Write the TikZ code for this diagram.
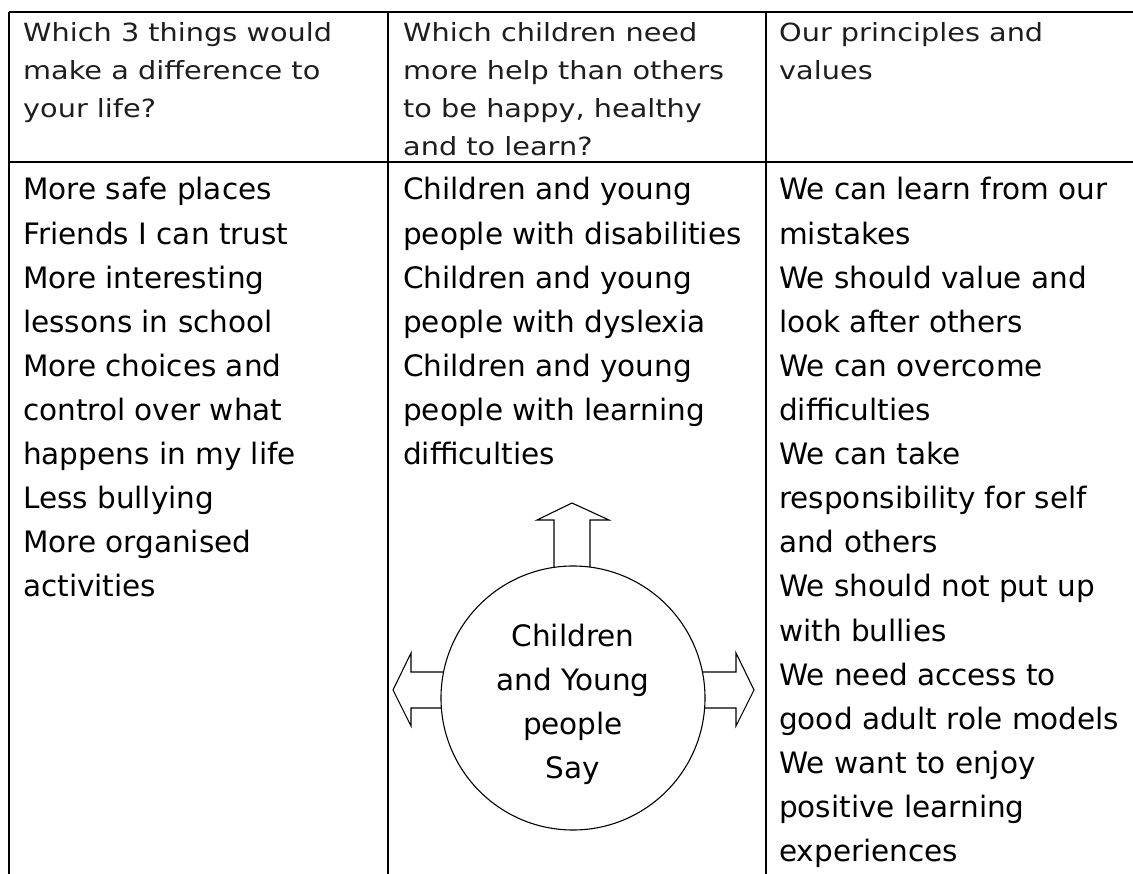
\documentclass[tikz,border=0pt]{standalone}
\usepackage{fontspec}
\newfontfamily\hfont[FakeStretch=1.15]{DejaVu Sans}
\newfontfamily\bfont{DejaVu Sans}
\definecolor{hgray}{HTML}{1E1E1E}
\begin{document}
\begin{tikzpicture}[x=1pt,y=-1pt,
  gridline/.style={line width=1.6pt, draw=black},
  headtext/.style={font=\hfont\fontsize{25}{30}\selectfont, text=hgray, anchor=base west, inner sep=0pt},
  bodytext/.style={font=\bfont\fontsize{29.5}{36}\selectfont, text=black, anchor=base west, inner sep=0pt},
  hubtext/.style={font=\bfont\fontsize{29.5}{36}\selectfont, text=black, anchor=base, inner sep=0pt},
  blockarrow/.style={draw=black, fill=white, line width=1.1pt, line join=miter},
  hub/.style={circle, draw=black, fill=white, line width=1.1pt, minimum size=264pt, inner sep=0pt}]
\useasboundingbox (0,0) rectangle (1133,874);
\fill[white] (0,0) rectangle (1133,874);
% table grid
\coordinate (tl) at (9,12);
\coordinate (tr) at (1133,12);
\coordinate (ml) at (9,162);
\coordinate (mr) at (1133,162);
\coordinate (bl) at (9,874);
\coordinate (c1t) at (388,12);
\coordinate (c1b) at (388,874);
\coordinate (c2t) at (766,12);
\coordinate (c2b) at (766,874);
\draw[gridline] (tl) -- (tr);
\draw[gridline] (ml) -- (mr);
\draw[gridline] (tl) -- (bl);
\draw[gridline] (c1t) -- (c1b);
\draw[gridline] (c2t) -- (c2b);
% headers
\foreach \t [count=\i] in {Which 3 things would, make a difference to, your life?}
  \node[headtext, name=ha\i] at (23,{42+37.7*(\i-1)}) {\t};
\foreach \t [count=\i] in {Which children need, more help than others, {to be happy, healthy}, and to learn?}
  \node[headtext, name=hb\i] at (403,{42+37.7*(\i-1)}) {\t};
\foreach \t [count=\i] in {Our principles and, values}
  \node[headtext, name=hc\i] at (779,{42+37.7*(\i-1)}) {\t};
% body columns
\foreach \t [count=\i] in {More safe places, Friends I can trust, More interesting, lessons in school, More choices and, control over what, happens in my life, Less bullying, More organised, activities}
  \node[bodytext, name=ba\i] at (23,{200+44.1*(\i-1)}) {\t};
\foreach \t [count=\i] in {Children and young, people with disabilities, Children and young, people with dyslexia, Children and young, people with learning, difficulties}
  \node[bodytext, name=bb\i] at (403,{200+44.1*(\i-1)}) {\t};
\foreach \t [count=\i] in {We can learn from our, mistakes, We should value and, look after others, We can overcome, difficulties, We can take, responsibility for self, and others, We should not put up, with bullies, We need access to, good adult role models, We want to enjoy, positive learning, experiences}
  \node[bodytext, name=bc\i] at (779,{200+44.1*(\i-1)}) {\t};
% block arrows
\draw[blockarrow] (554,580) -- (554,520) -- (537,520) -- (572,503) -- (609,520) -- (590,520) -- (590,580);
\draw[blockarrow] (455,672) -- (411,672) -- (411,653) -- (393,690) -- (411,726) -- (411,708) -- (455,708);
\draw[blockarrow] (690,672) -- (736,672) -- (736,653) -- (754,690) -- (736,726) -- (736,708) -- (690,708);
% hub circle
\node[hub] (hub) at (573,698) {};
\foreach \t [count=\i] in {Children, and Young, people, Say}
  \node[hubtext, name=hs\i] at (573,{646+44.1*(\i-1)}) {\t};
\end{tikzpicture}
\end{document}
